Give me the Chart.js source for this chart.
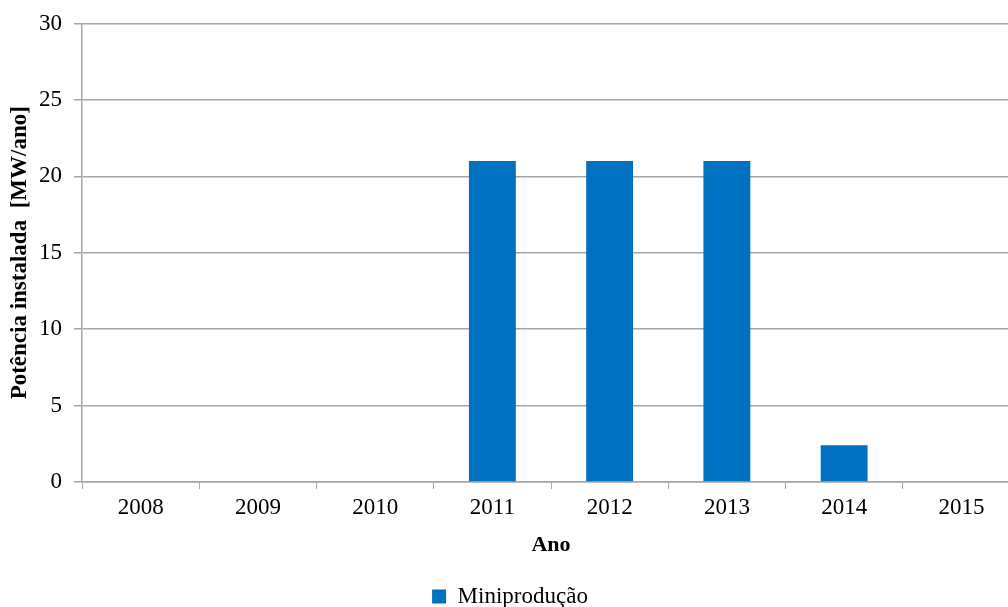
<!DOCTYPE html>
<html>
<head>
<meta charset="utf-8">
<script src="https://cdn.jsdelivr.net/npm/chart.js@4/dist/chart.umd.min.js"></script>
<style>
  html, body { margin: 0; padding: 0; background: #fff; overflow: hidden; }
  #wrap { width: 1020px; height: 618px; }
</style>
</head>
<body>
<div id="wrap"><canvas id="chart" width="1020" height="618"></canvas></div>
<script>
// --- Données ---
const anos = ['2008', '2009', '2010', '2011', '2012', '2013', '2014', '2015'];
const miniproducao = [0, 0, 0, 21, 21, 21, 2.4, 0];
const yTicks = [0, 5, 10, 15, 20, 25, 30];

const gris = '#a6a6a6';
const police = 'Liberation Serif, Times New Roman, serif';

const ctx = document.getElementById('chart').getContext('2d');
new Chart(ctx, {
    type: 'bar',
    data: {
        labels: anos,
        datasets: [{
            label: 'Miniprodução',
            data: miniproducao,
            backgroundColor: '#0070c0',
            borderWidth: 0,
            barPercentage: 0.4,
            categoryPercentage: 1
        }]
    },
    options: {
        responsive: false,
        animation: false,
        layout: { padding: { top: 23, left: 0, right: 0, bottom: 0 } },
        scales: {
            x: {
                offset: true,
                grid: { display: true, drawOnChartArea: false, offset: true, tickLength: 7, color: gris },
                border: { color: gris, width: 1.5 },
                ticks: { color: '#000', font: { family: police, size: 23 }, padding: 5 },
                title: { display: true, text: 'Ano', color: '#000', font: { family: police, size: 22, weight: 'bold' }, padding: { top: 0, bottom: 22 } },
                afterFit: scale => { scale.height = 99; }
            },
            y: {
                min: 0,
                max: 30,
                afterBuildTicks: scale => { scale.ticks = yTicks.map(v => ({ value: v })); },
                grid: { color: gris, tickLength: 8, lineWidth: 1.5 },
                border: { color: gris, width: 1.5 },
                ticks: { color: '#000', font: { family: police, size: 23, lineHeight: 1 }, padding: 12 },
                title: { display: true, text: 'Potência instalada  [MW/ano]', color: '#000', font: { family: police, size: 23, weight: 'bold' }, padding: { top: 6, bottom: 4 } },
                afterFit: scale => { scale.width = 82; }
            }
        },
        plugins: {
            legend: {
                position: 'bottom',
                labels: {
                    color: '#000',
                    font: { family: police, size: 23 },
                    boxWidth: 14,
                    boxHeight: 14,
                    padding: 4
                }
            },
            tooltip: { enabled: false }
        }
    }
});
</script>
</body>
</html>
